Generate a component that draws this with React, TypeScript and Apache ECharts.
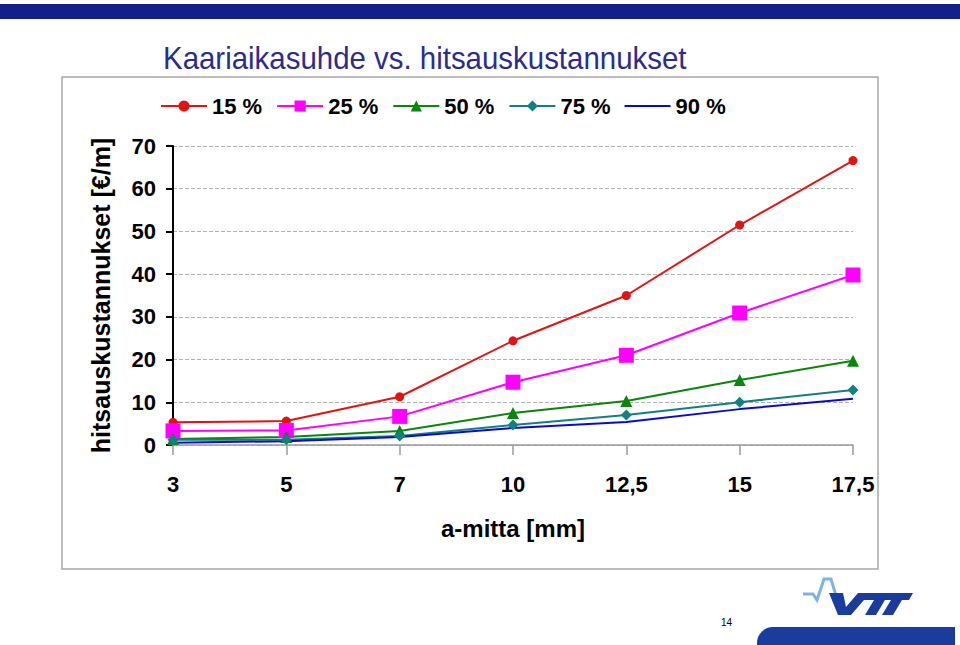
import React, { useEffect, useRef } from "react";
import * as echarts from "echarts";

const categories = ["3", "5", "7", "10", "12,5", "15", "17,5"];
const seriesNames = ["15 %", "25 %", "50 %", "75 %", "90 %"];
const s15 = [5.3, 5.6, 11.3, 24.4, 35.0, 51.5, 66.6];
const s25 = [3.3, 3.4, 6.7, 14.7, 21.0, 30.9, 39.8];
const s50 = [1.4, 1.9, 3.3, 7.5, 10.3, 15.2, 19.7];
const s75 = [1.2, 1.2, 2.1, 4.7, 7.0, 10.0, 12.9];
const s90 = [0.5, 0.9, 1.9, 4.0, 5.4, 8.4, 10.8];

const titleText = "Kaariaikasuhde vs. hitsauskustannukset";
const yName = "hitsauskustannukset [€/m]";
const xName = "a-mitta [mm]";
const pageNo = "14";

export default function App() {
  const ref = useRef<HTMLDivElement>(null);
  useEffect(() => {
    if (!ref.current) return;
    const chart = echarts.init(ref.current, null, { renderer: "svg" });
    const font = "Liberation Sans, Arial, sans-serif";
    const mk = (
      name: string,
      data: number[],
      color: string,
      symbol: string,
      size: number
    ) => ({
      name,
      type: "line",
      data,
      symbol,
      symbolSize: size,
      showSymbol: symbol !== "none",
      lineStyle: { color, width: 2 },
      itemStyle: { color },
      z: 3,
    });
    chart.setOption({
      animation: false,
      backgroundColor: "#ffffff",
      textStyle: { fontFamily: font },
      legend: {
        data: [
          seriesNames[0],
          seriesNames[1],
          seriesNames[2],
          seriesNames[3],
          { name: seriesNames[4], icon: "path://M0,0 L46,0 L46,2 L0,2 Z" },
        ],
        left: 155,
        top: 90,
        itemWidth: 46,
        itemHeight: 14,
        itemGap: 14,
        textStyle: {
          fontFamily: font,
          fontSize: 22,
          fontWeight: "bold",
          color: "#000",
        },
      },
      grid: { left: 173, right: 107, top: 146, bottom: 200, containLabel: false },
      xAxis: {
        type: "category",
        data: categories,
        boundaryGap: false,
        name: xName,
        nameLocation: "middle",
        nameGap: 71,
        nameTextStyle: {
          fontFamily: font,
          fontSize: 24,
          fontWeight: "bold",
          color: "#000",
        },
        axisLine: { lineStyle: { color: "#9a9a9a", width: 1.5 } },
        axisTick: { show: true, length: 10, lineStyle: { color: "#9a9a9a", width: 1.5 } },
        axisLabel: {
          margin: 28,
          fontFamily: font,
          fontSize: 22,
          fontWeight: "bold",
          color: "#000",
        },
        splitLine: { show: false },
      },
      yAxis: {
        type: "value",
        min: 0,
        max: 70,
        interval: 10,
        name: yName,
        nameLocation: "middle",
        nameGap: 60,
        nameRotate: 90,
        nameTextStyle: {
          fontFamily: font,
          fontSize: 25,
          fontWeight: "bold",
          color: "#000",
        },
        axisLine: { show: true, onZero: false, lineStyle: { color: "#000", width: 2 } },
        axisTick: { show: true, length: 7, lineStyle: { color: "#000", width: 2 } },
        axisLabel: {
          margin: 17,
          fontFamily: font,
          fontSize: 22,
          fontWeight: "bold",
          color: "#000",
        },
        splitLine: { show: true, lineStyle: { color: "#b0b0b0", type: "dashed", width: 1 } },
      },
      series: [
        mk(seriesNames[0], s15, "#e01414", "circle", 9),
        mk(seriesNames[1], s25, "#ff00ff", "rect", 15),
        mk(seriesNames[2], s50, "#0b850b", "triangle", 12),
        mk(seriesNames[3], s75, "#138080", "diamond", 11),
        mk(seriesNames[4], s90, "#0a0acc", "none", 0),
      ],
      graphic: [
        {
          type: "rect",
          shape: { x: 0, y: 4, width: 960, height: 15 },
          style: { fill: "#13208a" },
          z: 0,
        },
        {
          type: "text",
          x: 163,
          y: 42,
          scaleX: 0.92,
          style: {
            text: titleText,
            fontSize: 32,
            fontFamily: font,
            fill: "#2b2d8e",
          },
          z: 0,
        },
        {
          type: "rect",
          shape: { x: 62, y: 77, width: 816, height: 492 },
          style: { fill: "none", stroke: "#a8a8a8", lineWidth: 1.5 },
          z: 0,
        },
        {
          type: "text",
          x: 721,
          y: 617,
          style: { text: pageNo, fontSize: 10, fill: "#000", fontFamily: font },
          z: 0,
        },
        {
          type: "rect",
          shape: { x: 757, y: 627, width: 198, height: 18, r: [16, 0, 0, 0] },
          style: { fill: "#1a3c9c" },
          z: 0,
        },
        {
          type: "polyline",
          shape: {
            points: [
              [803, 594],
              [813, 594],
              [817, 600],
              [824, 579],
              [831, 579],
              [837, 599],
            ],
          },
          style: { stroke: "#7fb3e3", lineWidth: 3, fill: "none" },
          z: 0,
        },
        {
          type: "polygon",
          shape: {
            points: [
              [829, 593],
              [843, 593],
              [846, 607],
              [858, 593],
              [870, 593],
              [851, 615],
              [838, 615],
            ],
          },
          style: { fill: "#1a3c9c" },
          z: 0,
        },
        {
          type: "polygon",
          shape: {
            points: [
              [866, 593],
              [913, 593],
              [909, 600],
              [902, 600],
              [893, 615],
              [882, 615],
              [891, 600],
              [885, 600],
              [876, 615],
              [865, 615],
              [874, 600],
              [862, 600],
            ],
          },
          style: { fill: "#1a3c9c" },
          z: 0,
        },
      ],
    });
    return () => chart.dispose();
  }, []);
  return (
    <div
      ref={ref}
      style={{ position: "fixed", left: 0, top: 0, width: 960, height: 645 }}
    />
  );
}
